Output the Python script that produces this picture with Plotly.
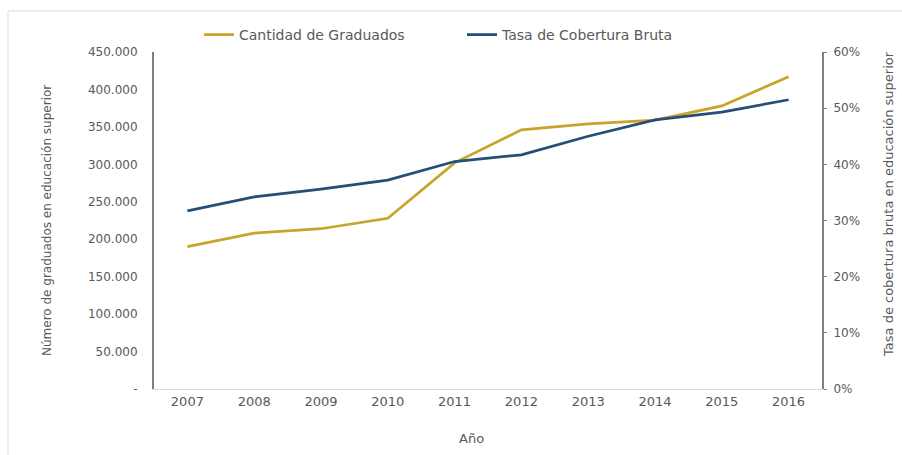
import plotly.graph_objects as go

years = ["2007", "2008", "2009", "2010", "2011", "2012", "2013", "2014", "2015", "2016"]
graduados = [190000, 208000, 214000, 228000, 302000, 346000, 354000, 359000, 378000, 417000]
cobertura = [0.317, 0.342, 0.356, 0.372, 0.405, 0.417, 0.450, 0.479, 0.493, 0.515]

left_tickvals = [0, 50000, 100000, 150000, 200000, 250000, 300000, 350000, 400000, 450000]
left_ticktext = ["-", "50.000", "100.000", "150.000", "200.000", "250.000",
                 "300.000", "350.000", "400.000", "450.000"]
right_tickvals = [0, 0.1, 0.2, 0.3, 0.4, 0.5, 0.6]
right_ticktext = ["0%", "10%", "20%", "30%", "40%", "50%", "60%"]

GOLD = "#C9A42A"
NAVY = "#254E78"
TEXT = "#595959"
FONT = "DejaVu Sans"

W, H = 902, 455
L, R, T, B = 154, 822, 52, 389  # plot area in pixels

def px_x(x):
    return (x - L) / (R - L)

def px_y(y):
    return (B - y) / (B - T)

fig = go.Figure()
fig.add_trace(go.Scatter(x=years, y=graduados, name="Cantidad de Graduados",
                         mode="lines", line=dict(color=GOLD, width=2.75)))
fig.add_trace(go.Scatter(x=years, y=cobertura, name="Tasa de Cobertura Bruta",
                         mode="lines", line=dict(color=NAVY, width=2.75), yaxis="y2"))

fig.update_layout(
    width=W, height=H,
    margin=dict(l=L, r=W - R, t=T, b=H - B),
    paper_bgcolor="white", plot_bgcolor="white",
    font=dict(family=FONT, size=12, color=TEXT),
    showlegend=True,
    legend=dict(orientation="h", x=px_x(199), xanchor="left", y=px_y(35), yanchor="middle",
                font=dict(size=14, color=TEXT), bgcolor="rgba(0,0,0,0)",
                entrywidth=218, entrywidthmode="pixels", tracegroupgap=0),
    xaxis=dict(type="category", range=[-0.5, 9.5], showgrid=False,
               showline=True, linecolor="#D9D9D9", linewidth=1,
               ticks="", tickfont=dict(size=13, color=TEXT), zeroline=False),
    yaxis=dict(range=[0, 450000], tickvals=left_tickvals, ticktext=left_ticktext,
               showgrid=False, zeroline=False, showline=True, linecolor="#7F7F7F",
               linewidth=2, ticks="", ticklabelstandoff=12,
               tickfont=dict(size=12, color=TEXT)),
    yaxis2=dict(range=[0, 0.6], tickvals=right_tickvals, ticktext=right_ticktext,
                overlaying="y", side="right", showgrid=False, zeroline=False,
                showline=True, linecolor="#7F7F7F", linewidth=2,
                ticks="outside", ticklen=3, tickcolor="#7F7F7F", ticklabelstandoff=4,
                tickfont=dict(size=12, color=TEXT)),
)

# axis titles
fig.add_annotation(text="Número de graduados en educación superior", textangle=-90,
                   xref="paper", yref="paper", x=px_x(47), y=px_y(220),
                   showarrow=False, font=dict(size=12, color=TEXT),
                   xanchor="center", yanchor="middle")
fig.add_annotation(text="Tasa de cobertura bruta en educación superior", textangle=-90,
                   xref="paper", yref="paper", x=px_x(888), y=px_y(204),
                   showarrow=False, font=dict(size=13, color=TEXT),
                   xanchor="center", yanchor="middle")
fig.add_annotation(text="Año", xref="paper", yref="paper", x=px_x(471), y=px_y(438),
                   showarrow=False, font=dict(size=13, color=TEXT),
                   xanchor="center", yanchor="middle")

# outer chart frame
fig.add_shape(type="rect", xref="paper", yref="paper",
              x0=px_x(8), x1=px_x(920), y0=px_y(480), y1=px_y(11),
              line=dict(color="#D9D9D9", width=1), fillcolor="rgba(0,0,0,0)", layer="below")

fig.write_html("out.html")
